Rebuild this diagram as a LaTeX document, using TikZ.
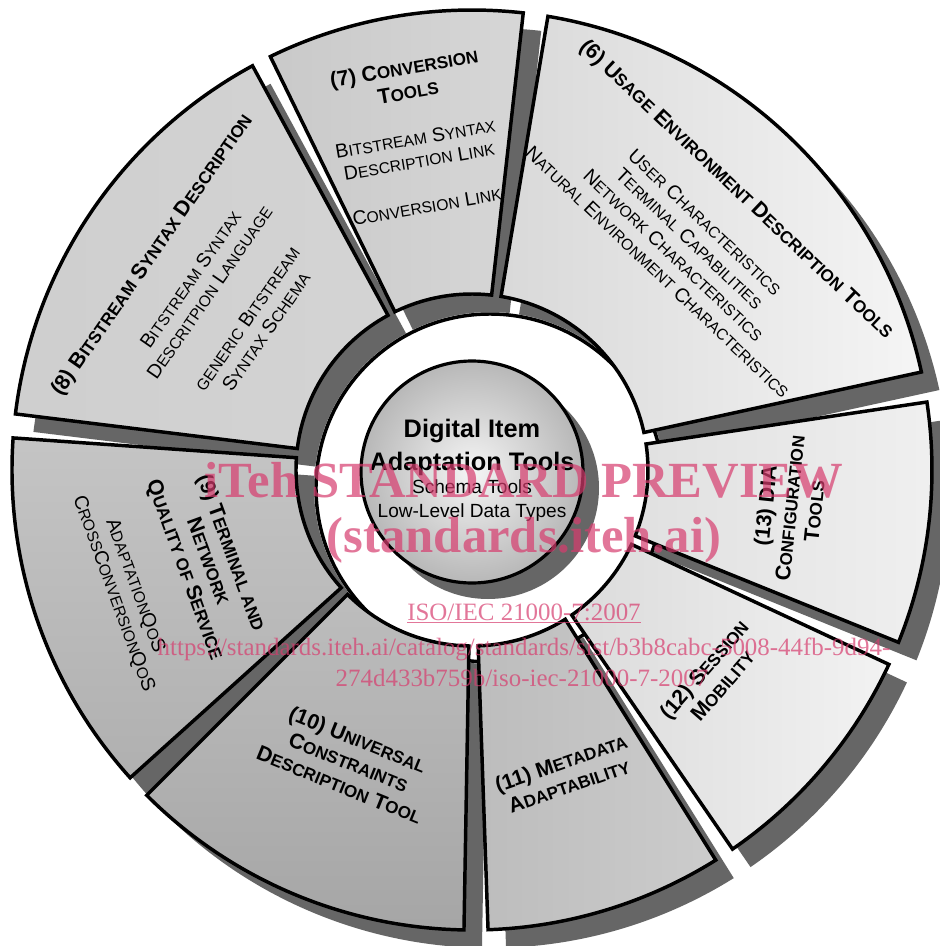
\documentclass[tikz,border=0pt]{standalone}
\usepackage{fontspec}
\setmainfont{Liberation Sans}
\newfontfamily\wmfont{Liberation Serif}

\makeatletter
\newcommand\smc[1]{{\fontsize{\fpeval{0.8*\f@size}}{\f@baselineskip}\selectfont\MakeUppercase{#1}}}
\makeatother

% one piece of the ring: start angle, end angle
\newcommand\ringpiece[2]{(#1:176) arc[start angle=#1, end angle=#2, radius=176] -- (#2:460) arc[start angle=#2, end angle=#1, radius=460] -- cycle}

\definecolor{dropgray}{HTML}{666666}
\definecolor{wmark}{RGB}{215,60,110}
\pgfdeclareradialshading{ball}{\pgfpoint{0bp}{0bp}}{color(0bp)=(black!4); color(50bp)=(black!52)}

\tikzset{
  piece/.style={draw=black, line width=2.6pt},
  headtext/.style={font=\fontsize{16}{18.4}\selectfont\bfseries, align=center},
  itemtext/.style={font=\fontsize{14.7}{17.2}\selectfont, align=center},
  wm/.style={text=wmark, text opacity=0.7, anchor=base}
}

\begin{document}
\begin{tikzpicture}[x=0.75pt, y=0.75pt]
\useasboundingbox[fill=white] (-472,-476) rectangle (467,470);

% shadows under the ring
\begin{scope}[shift={(18,-18)}]
  \foreach \a/\b in {12.3/80.5, 83.6/116, 118.5/173, 176/222, 225/269, 272/302, 304.5/335, 338/368.5}
    \fill[dropgray] \ringpiece{\a}{\b};
  \draw[fill=white, line width=2.6pt] (0,0) circle[radius=174];
\end{scope}

\draw[piece, left color=black!15, right color=black!4] \ringpiece{12.3}{80.5};
\draw[piece, left color=black!21, right color=black!16] \ringpiece{83.6}{116};
\draw[piece, left color=black!19, right color=black!17] \ringpiece{118.5}{173};
\draw[piece, top color=black!23, bottom color=black!31] \ringpiece{176}{222};
\draw[piece, top color=black!26, bottom color=black!35] \ringpiece{225}{269};
\draw[piece, left color=black!26, right color=black!20] \ringpiece{272}{302};
\draw[piece, left color=black!14, right color=black!5] \ringpiece{304.5}{335};
\draw[piece, left color=black!12, right color=black!6] \ringpiece{338}{368.5};

% centre ball
\fill[dropgray] (16,-18) circle[radius=111];
\path[draw, line width=2.4pt, shade, shading=ball] (0,-2) circle[radius=111];
\node[font=\fontsize{19}{22}\selectfont\bfseries, anchor=base] (dia1) at (0,32) {Digital Item};
\node[font=\fontsize{19}{22}\selectfont\bfseries, anchor=base] (dia2) at (0,0) {Adaptation Tools};
\node[font=\fontsize{14.3}{17}\selectfont, anchor=base] (dia3) at (0,-23) {Schema Tools};
\node[font=\fontsize{14.3}{17}\selectfont, anchor=base] (dia4) at (0,-47) {Low-Level Data Types};

% labels of the pieces
\node[headtext, rotate=-43.5] (t6) at (46.7:385) {(6) U\smc{sage} E\smc{nvironment} D\smc{escription} T\smc{ools}};
\node[itemtext, rotate=-43.5] (i6) at (46.8:306) {U\smc{ser} C\smc{haracteristics}\\T\smc{erminal} C\smc{apabilities}\\N\smc{etwork} C\smc{haracteristics}\\N\smc{atural} E\smc{nvironment} C\smc{haracteristics}};
\node[headtext, rotate=9.7] (t7) at (99.6:396) {(7) C\smc{onversion}\\T\smc{ools}};
\node[itemtext, rotate=9.7] (i7) at (99.7:302) {B\smc{itstream} S\smc{yntax}\\D\smc{escription} L\smc{ink}\\[17.2pt]C\smc{onversion} L\smc{ink}};
\node[headtext, rotate=55.3] (t8) at (146.1:385) {(8) B\smc{itstream} S\smc{yntax} D\smc{escription}};
\node[itemtext, rotate=55.3] (i8) at (146:294) {B\smc{itstream} S\smc{yntax}\\D\smc{escritpion} L\smc{anguage}\\[17.2pt]\smc{generic} B\smc{itstream}\\S\smc{yntax} S\smc{chema}};
\node[headtext, rotate=-70] (t9) at (199.1:280) {(9) T\smc{erminal and}\\N\smc{etwork}\\Q\smc{uality of} S\smc{ervice}};
\node[itemtext, rotate=-70] (i9) at (199:368) {A\smc{daptation}Q\smc{o}S\\C\smc{ross}C\smc{onversion}Q\smc{o}S};
\node[headtext, rotate=-22] (t10) at (247.1:317) {(10) U\smc{niversal}\\C\smc{onstraints}\\D\smc{escription} T\smc{ool}};
\node[headtext, rotate=19] (t11) at (287:318) {(11) M\smc{etadata}\\A\smc{daptability}};
\node[headtext, rotate=49] (t12) at (319.3:318) {(12) S\smc{ession}\\M\smc{obility}};
\node[headtext, rotate=84] (t13) at (353.1:320) {(13) DIA\\C\smc{onfiguration}\\T\smc{ools}};

% preview stamp
\node[wm, font=\wmfont\bfseries\fontsize{38}{40}\selectfont] (wm1) at (52,-27) {iTeh STANDARD PREVIEW};
\node[wm, font=\wmfont\bfseries\fontsize{38}{40}\selectfont] (wm2) at (52,-82) {(standards.iteh.ai)};
\node[wm, font=\wmfont\fontsize{18.7}{20}\selectfont] (wm3) at (52,-150) {\underline{ISO/IEC 21000-7:2007}};
\node[wm, font=\wmfont\fontsize{18.7}{20}\selectfont] (wm4) at (52,-185) {https://standards.iteh.ai/catalog/standards/sist/b3b8cabc-5008-44fb-9d94-};
\node[wm, font=\wmfont\fontsize{18.7}{20}\selectfont] (wm5) at (50,-216) {274d433b759b/iso-iec-21000-7-2007};
\end{tikzpicture}
\end{document}
